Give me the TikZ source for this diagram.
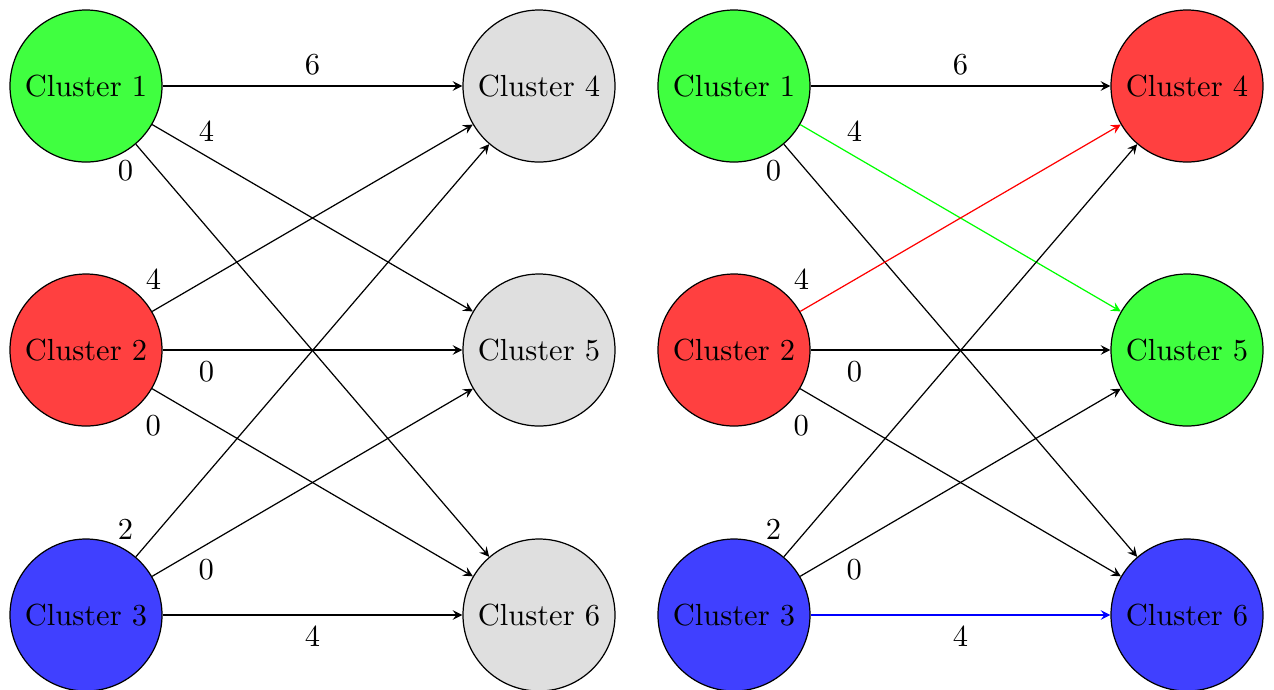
\documentclass[tikz,border=0pt]{standalone}
\usetikzlibrary{arrows}
\begin{document}
\begin{tikzpicture}[x=0.3279pt, y=-0.3279pt, >=stealth,
  cl/.style={circle, draw=black, minimum size=49.84pt, inner sep=0pt},
  gn/.style={cl, fill=green!75},
  rd/.style={cl, fill=red!75},
  bl/.style={cl, fill=blue!75},
  gy/.style={cl, fill=gray!25},
  lbl/.style={inner sep=0pt},
  arr/.style={->}]
\useasboundingbox (0,0) rectangle (1274,689);
% left graph
\node[gn] (a1) at (86,86) {Cluster 1};
\node[rd] (a2) at (86,350) {Cluster 2};
\node[bl] (a3) at (86,615) {Cluster 3};
\node[gy] (a4) at (539,86) {Cluster 4};
\node[gy] (a5) at (539,350) {Cluster 5};
\node[gy] (a6) at (539,615) {Cluster 6};
\draw[arr] (a1) -- node[lbl, pos=0.5, yshift=6.9pt] {6} (a4);
\draw[arr] (a1) -- node[lbl, pos=0.169, yshift=8.2pt] {4} (a5);
\draw[arr] (a1) -- node[lbl, pos=0, xshift=-3.4pt, yshift=-8.6pt] {0} (a6);
\draw[arr] (a2) -- node[lbl, pos=0, xshift=0.4pt, yshift=10.7pt] {4} (a4);
\draw[arr] (a2) -- node[lbl, pos=0.146, yshift=-7.2pt] {0} (a5);
\draw[arr] (a2) -- node[lbl, pos=0, xshift=0.4pt, yshift=-12pt] {0} (a6);
\draw[arr] (a3) -- node[lbl, pos=0, xshift=-3.4pt, yshift=9pt] {2} (a4);
\draw[arr] (a3) -- node[lbl, pos=0.169, yshift=-8.2pt] {0} (a5);
\draw[arr] (a3) -- node[lbl, pos=0.5, yshift=-6.9pt] {4} (a6);
% right graph
\node[gn] (b1) at (734,86) {Cluster 1};
\node[rd] (b2) at (734,350) {Cluster 2};
\node[bl] (b3) at (734,615) {Cluster 3};
\node[rd] (b4) at (1187,86) {Cluster 4};
\node[gn] (b5) at (1187,350) {Cluster 5};
\node[bl] (b6) at (1187,615) {Cluster 6};
\draw[arr] (b1) -- node[lbl, pos=0.5, yshift=6.9pt] {6} (b4);
\draw[arr, green] (b1) -- node[lbl, black, pos=0.169, yshift=8.2pt] {4} (b5);
\draw[arr] (b1) -- node[lbl, pos=0, xshift=-3.4pt, yshift=-8.6pt] {0} (b6);
\draw[arr, red] (b2) -- node[lbl, black, pos=0, xshift=0.4pt, yshift=10.7pt] {4} (b4);
\draw[arr] (b2) -- node[lbl, pos=0.146, yshift=-7.2pt] {0} (b5);
\draw[arr] (b2) -- node[lbl, pos=0, xshift=0.4pt, yshift=-12pt] {0} (b6);
\draw[arr] (b3) -- node[lbl, pos=0, xshift=-3.4pt, yshift=9pt] {2} (b4);
\draw[arr] (b3) -- node[lbl, pos=0.169, yshift=-8.2pt] {0} (b5);
\draw[arr, blue] (b3) -- node[lbl, black, pos=0.5, yshift=-6.9pt] {4} (b6);
\end{tikzpicture}
\end{document}
